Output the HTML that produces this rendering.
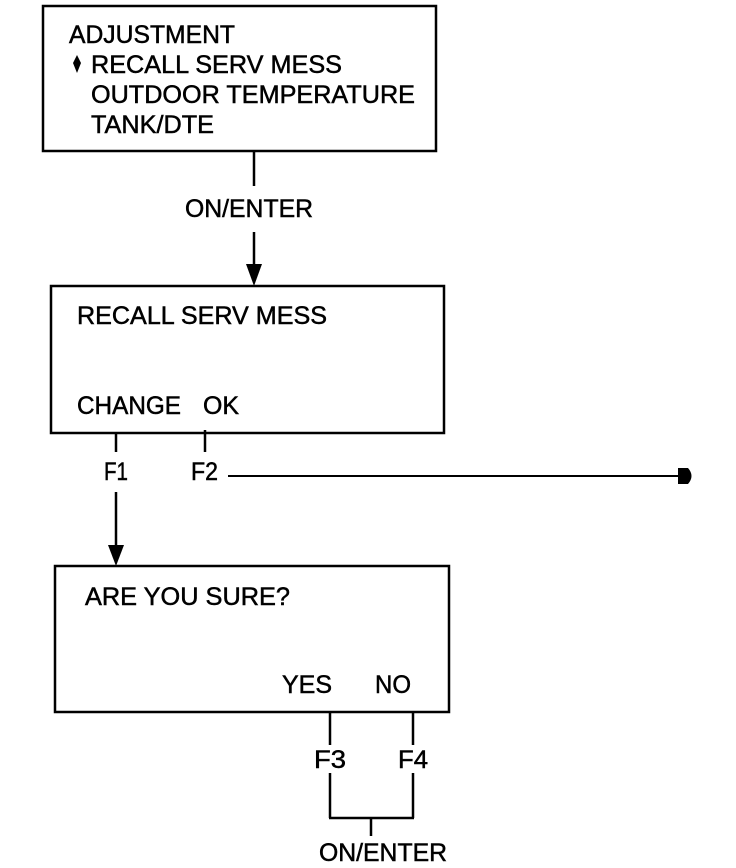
<!DOCTYPE html>
<html><head><meta charset="utf-8"><style>html,body{margin:0;padding:0;background:#fff;}svg{display:block}</style></head>
<body>
<svg width="736" height="868" viewBox="0 0 736 868" xmlns="http://www.w3.org/2000/svg" font-family="Liberation Sans, sans-serif" font-size="25" fill="#000">
<g fill="none" stroke="#000" stroke-width="2.5">
<rect x="43" y="6" width="393" height="145"/>
<rect x="51" y="286" width="393" height="147"/>
<rect x="55" y="566" width="394" height="146"/>
<line x1="254" y1="151" x2="254" y2="186"/>
<line x1="254" y1="232" x2="254" y2="268"/>
<line x1="116" y1="433" x2="116" y2="452"/>
<line x1="116" y1="492" x2="116" y2="548"/>
<line x1="205" y1="430" x2="205" y2="452"/>
<line x1="228" y1="476" x2="680" y2="476" stroke-width="2"/>
<line x1="330" y1="712" x2="330" y2="745"/>
<line x1="330" y1="773" x2="330" y2="818"/>
<line x1="413" y1="712" x2="413" y2="745"/>
<line x1="413" y1="773" x2="413" y2="818"/>
<line x1="329" y1="818" x2="414" y2="818"/>
<line x1="371" y1="818" x2="371" y2="836"/>
</g>
<polygon points="246,264 262,264 254,286"/>
<polygon points="108,545 124,545 116,566"/>
<path d="M678,468 L688,468 Q695,476 688,484 L678,484 Z"/>
<polygon points="77,55 81,63 77,73 73,63"/>
<g stroke="#000" stroke-width="0.5">
<text x="69" y="43" textLength="166" lengthAdjust="spacingAndGlyphs">ADJUSTMENT</text>
<text x="91" y="73" textLength="251" lengthAdjust="spacingAndGlyphs">RECALL SERV MESS</text>
<text x="91" y="103" textLength="324" lengthAdjust="spacingAndGlyphs">OUTDOOR TEMPERATURE</text>
<text x="91" y="133" textLength="123" lengthAdjust="spacingAndGlyphs">TANK/DTE</text>
<text x="185" y="217" textLength="128" lengthAdjust="spacingAndGlyphs">ON/ENTER</text>
<text x="77" y="324" textLength="250" lengthAdjust="spacingAndGlyphs">RECALL SERV MESS</text>
<text x="77" y="414" textLength="104" lengthAdjust="spacingAndGlyphs">CHANGE</text>
<text x="203" y="414" textLength="36" lengthAdjust="spacingAndGlyphs">OK</text>
<text x="104" y="480" textLength="24" lengthAdjust="spacingAndGlyphs">F1</text>
<text x="191" y="480" textLength="27" lengthAdjust="spacingAndGlyphs">F2</text>
<text x="85" y="605" textLength="205" lengthAdjust="spacingAndGlyphs">ARE YOU SURE?</text>
<text x="282" y="693" textLength="50" lengthAdjust="spacingAndGlyphs">YES</text>
<text x="375" y="693" textLength="36" lengthAdjust="spacingAndGlyphs">NO</text>
<text x="314" y="768" textLength="32" lengthAdjust="spacingAndGlyphs">F3</text>
<text x="398" y="768" textLength="30" lengthAdjust="spacingAndGlyphs">F4</text>
<text x="319" y="861" textLength="128" lengthAdjust="spacingAndGlyphs">ON/ENTER</text>
</g>
</svg>
</body></html>
